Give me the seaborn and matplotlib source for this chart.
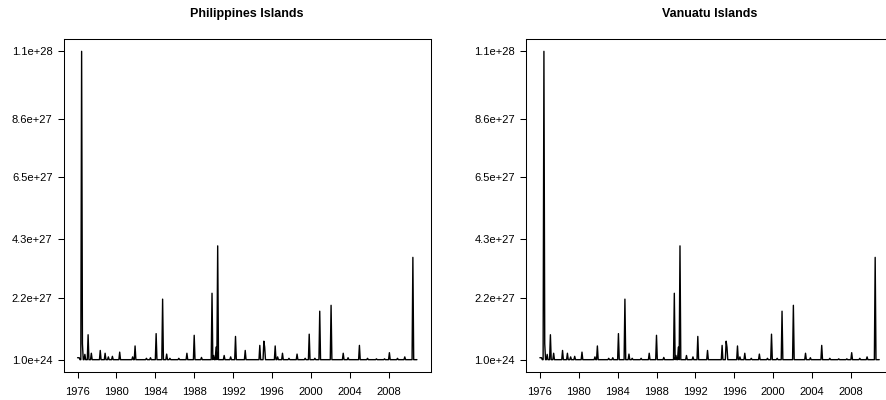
import numpy as np
import pandas as pd
import matplotlib
matplotlib.use("Agg")
import matplotlib.pyplot as plt
import seaborn as sns

# Monthly series, Jan 1976 - Dec 2010; months not listed sit at the floor value
start_month = "1976-01"
end_month = "2010-12"
floor_value = 1.0e24

# Months with values above the floor (value in units of 1e27)
event_months = [
    "1976-01", "1976-02", "1976-03", "1976-06", "1976-07", "1976-10",
    "1977-02", "1977-06", "1978-05", "1978-11", "1979-03", "1979-08",
    "1980-05", "1981-09", "1981-12", "1983-02", "1983-07", "1984-02",
    "1984-10", "1985-03", "1985-07", "1986-06", "1987-04", "1988-01",
    "1988-10", "1989-11", "1990-01", "1990-04", "1990-06", "1991-02",
    "1991-10", "1992-04", "1993-04", "1994-10", "1995-03", "1995-04",
    "1996-05", "1996-08", "1997-02", "1997-10", "1998-08", "1999-06",
    "1999-11", "2000-06", "2000-12", "2002-02", "2003-05", "2003-11",
    "2005-01", "2005-11", "2006-10", "2007-08", "2008-02", "2008-12",
    "2009-09", "2010-07",
]
event_values_e27 = [
    0.07, 0.07, 0.07, 11.0, 0.57, 0.19,
    0.89, 0.23, 0.33, 0.23, 0.10, 0.12,
    0.27, 0.10, 0.49, 0.05, 0.07, 0.93,
    2.16, 0.20, 0.05, 0.05, 0.23, 0.87,
    0.08, 2.37, 0.15, 0.45, 4.06, 0.15,
    0.10, 0.83, 0.33, 0.51, 0.66, 0.45,
    0.49, 0.10, 0.23, 0.05, 0.20, 0.05,
    0.91, 0.05, 1.73, 1.94, 0.23, 0.07,
    0.51, 0.05, 0.03, 0.03, 0.25, 0.05,
    0.10, 3.65,
]

panel_titles = ["Philippines Islands", "Vanuatu Islands"]
y_tick_values = [1.0e24, 2.2e27, 4.3e27, 6.5e27, 8.6e27, 1.1e28]
x_tick_values = [1976, 1980, 1984, 1988, 1992, 1996, 2000, 2004, 2008]

# Assemble the monthly table
months = pd.period_range(start_month, end_month, freq="M")
series = pd.Series(floor_value, index=months)
for m, v in zip(event_months, event_values_e27):
    series[pd.Period(m, freq="M")] = v * 1e27
df = pd.DataFrame({
    "time": months.year + (months.month - 1) / 12.0,
    "value": series.values,
})

sns.set_theme(style="white")
plt.rcParams["font.family"] = ["Liberation Sans", "DejaVu Sans"]

fig = plt.figure(figsize=(8.86, 4.0), dpi=100)
axes_boxes = [
    [64 / 886, 28 / 400, 366.5 / 886, 333 / 400],
    [526.3 / 886, 28 / 400, 366.5 / 886, 333 / 400],
]

t0, t1 = df["time"].min(), df["time"].max()
v0, v1 = df["value"].min(), df["value"].max()
xpad = 0.04 * (t1 - t0)
ypad = 0.04 * (v1 - v0)

for box, title in zip(axes_boxes, panel_titles):
    ax = fig.add_axes(box)
    sns.lineplot(data=df, x="time", y="value", ax=ax, color="black",
                 linewidth=1.0, estimator=None)
    ax.set_xlim(t0 - xpad, t1 + xpad)
    ax.set_ylim(v0 - ypad, v1 + ypad)
    ax.set_xticks(x_tick_values)
    ax.set_xticklabels([str(x) for x in x_tick_values])
    ax.set_yticks(y_tick_values)
    ax.set_yticklabels([f"{y:.1e}" for y in y_tick_values])
    ax.set_xlabel("")
    ax.set_ylabel("")
    ax.tick_params(axis="both", which="major", direction="out", length=4.3,
                   width=0.75, color="black", labelsize=8.0, labelcolor="black",
                   bottom=True, left=True)
    ax.tick_params(axis="x", pad=6.2)
    ax.tick_params(axis="y", pad=4.0)
    for s in ax.spines.values():
        s.set_visible(True)
        s.set_color("black")
        s.set_linewidth(0.75)
    ax.grid(False)
    cx = box[0] + box[2] / 2
    fig.text(cx, 1 - 14 / 400, title, ha="center", va="center",
             fontsize=9, fontweight="bold", color="black")

fig.savefig("out.png", dpi=100, facecolor="white")
